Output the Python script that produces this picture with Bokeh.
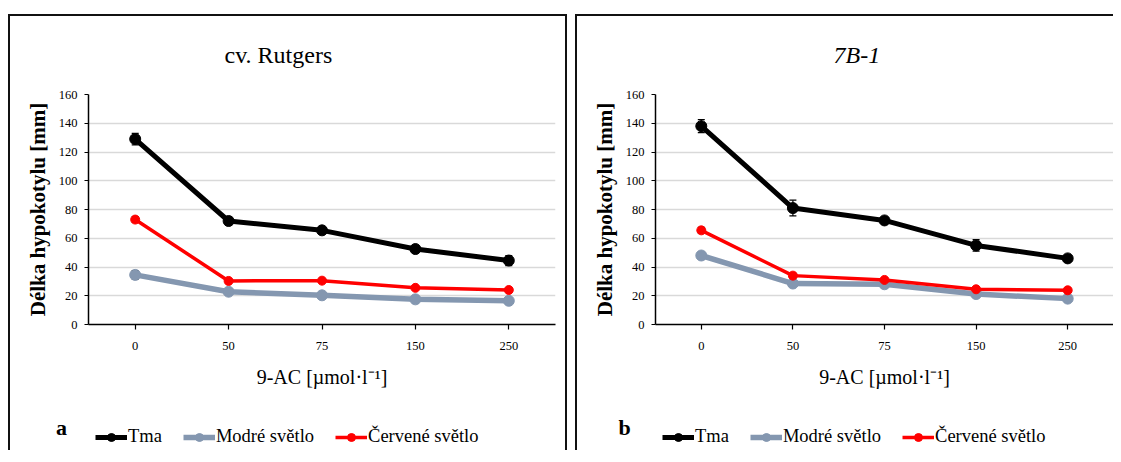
from bokeh.plotting import figure
from bokeh.models import (ColumnDataSource, FactorRange, Range1d, FixedTicker, Whisker,
                          TeeHead, Legend, LegendItem, Label)
from bokeh.layouts import row, column
from bokeh.embed import file_html
from bokeh.resources import INLINE

# ---------------- data ----------------
doses = ["0", "50", "75", "150", "250"]
series_names = ["Tma", "Modré světlo", "Červené světlo"]

# panel a: cv. Rutgers
a_tma = [129, 72, 65.5, 52.5, 44.5]
a_tma_err = [4, 3, 2, 2, 3.5]
a_modre = [34.5, 22.8, 20.3, 17.5, 16.5]
a_modre_err = [3, 1.5, 1, 1, 1]
a_cervene = [73, 30.3, 30.5, 25.5, 24]
a_cervene_err = [2, 1, 1, 1, 1]

# panel b: 7B-1
b_tma = [138, 81, 72.4, 55, 46]
b_tma_err = [4.5, 5.5, 2, 4, 2]
b_modre = [48, 28.5, 28, 21.2, 18]
b_modre_err = [2, 1.5, 1.5, 1.5, 1.5]
b_cervene = [65.5, 34, 31, 24.5, 23.8]
b_cervene_err = [2, 1.5, 1.5, 1.5, 1.5]

y_ticks = [0, 20, 40, 60, 80, 100, 120, 140, 160]
x_title = "9-AC [µmol·l⁻¹]"
y_title = "Délka hypokotylu [mm]"

SERIF = "'Liberation Serif', 'Times New Roman', serif"
COLORS = {"Tma": "#000000", "Modré světlo": "#8497B0", "Červené světlo": "#FF0000"}
LWIDTH = {"Tma": 5, "Modré světlo": 5.5, "Červené světlo": 3.5}
MSIZE = {"Tma": 11, "Modré světlo": 11, "Červené světlo": 9}
BORDER = "2px solid #111"


def make_main(title, italic, title_offset, tma, tma_e, mod, mod_e, cer, cer_e,
              width, border_right, css):
    p = figure(x_range=FactorRange(*doses, range_padding=0), y_range=Range1d(0, 160),
               width=width, height=386, output_backend="svg", toolbar_location=None,
               min_border_left=78, min_border_right=border_right,
               min_border_top=77, min_border_bottom=78, styles=css)
    p.title.text = title
    p.title.align = "left"
    p.title.vertical_align = "top"
    p.title.offset = title_offset
    p.title.standoff = 50
    p.title.text_font = SERIF
    p.title.text_font_size = "24px"
    p.title.text_font_style = "italic" if italic else "normal"
    p.title.text_color = "black"

    p.outline_line_color = None
    p.xgrid.grid_line_color = None
    p.ygrid.grid_line_color = "#D9D9D9"
    p.ygrid.grid_line_width = 1.5
    p.yaxis.ticker = FixedTicker(ticks=y_ticks)
    for ax in (p.xaxis, p.yaxis):
        ax.axis_line_color = "black"
        ax.axis_line_width = 1.5
        ax.major_tick_line_color = "black"
        ax.major_tick_line_width = 1.2
        ax.minor_tick_line_color = None
        ax.major_tick_in = 0
        ax.major_label_text_font = SERIF
        ax.major_label_text_font_size = "12.5px"
        ax.major_label_text_color = "black"
        ax.axis_label_text_font = SERIF
        ax.axis_label_text_color = "black"
    p.yaxis.major_tick_out = 4
    p.yaxis.major_label_standoff = 7
    p.yaxis.axis_label = y_title
    p.yaxis.axis_label_text_font_size = "21px"
    p.yaxis.axis_label_text_font_style = "bold"
    p.yaxis.axis_label_standoff = 6
    p.xaxis.major_tick_out = 5
    p.xaxis.major_label_standoff = 12
    p.xaxis.axis_label = x_title
    p.xaxis.axis_label_text_font_size = "20px"
    p.xaxis.axis_label_text_font_style = "normal"
    p.xaxis.axis_label_standoff = 13

    data = {"Tma": (tma, tma_e), "Modré světlo": (mod, mod_e), "Červené světlo": (cer, cer_e)}
    for name in ["Modré světlo", "Červené světlo", "Tma"]:
        vals, errs = data[name]
        src = ColumnDataSource(dict(x=doses, y=vals,
                                    lo=[v - e for v, e in zip(vals, errs)],
                                    hi=[v + e for v, e in zip(vals, errs)]))
        w = Whisker(source=src, base="x", lower="lo", upper="hi", dimension="height",
                    line_color="black", line_width=1.2,
                    lower_head=TeeHead(size=7, line_color="black", line_width=1.2),
                    upper_head=TeeHead(size=7, line_color="black", line_width=1.2))
        p.add_layout(w)
        p.line("x", "y", source=src, line_color=COLORS[name], line_width=LWIDTH[name])
        p.scatter("x", "y", source=src, size=MSIZE[name], fill_color=COLORS[name],
                  line_color=COLORS[name])
    return p


def make_legend(letter, letter_x, width, series, css):
    # legend strip below the chart; its series data lie outside its visible x range
    h = 50
    cw = width - 4 if "border-right" in css else width - 2
    q = figure(x_range=Range1d(-cw - 20, -20), y_range=Range1d(0, h), width=width, height=h,
               output_backend="svg", toolbar_location=None,
               x_axis_location=None, y_axis_location=None,
               min_border=0, min_border_left=0, min_border_right=0,
               min_border_top=0, min_border_bottom=0, styles=css)
    if "frame_align" in q.properties():
        q.frame_align = False
    q.outline_line_color = None
    q.xgrid.visible = False
    q.ygrid.visible = False
    items = []
    for name, vals in zip(series_names, series):
        src = ColumnDataSource(dict(x=list(range(len(vals))), y=vals))
        ln = q.line("x", "y", source=src, line_color=COLORS[name], line_width=LWIDTH[name])
        sc = q.scatter("x", "y", source=src, size=MSIZE[name], fill_color=COLORS[name],
                       line_color=COLORS[name])
        items.append(LegendItem(label=name, renderers=[ln, sc]))
    legend = Legend(items=items, orientation="horizontal", location=(85, 3), padding=0,
                    margin=0, spacing=21, label_standoff=1, glyph_width=32, glyph_height=20,
                    label_height=20, background_fill_alpha=0, border_line_color=None,
                    label_text_font=SERIF, label_text_font_size="18.5px",
                    label_text_color="black")
    q.add_layout(legend, "center")
    q.add_layout(Label(x=letter_x, y=23, x_units="screen", y_units="screen", text=letter,
                       text_font=SERIF, text_font_size="22px", text_font_style="bold",
                       text_align="center", text_baseline="middle", text_color="black"))
    return q


css_a_top = {"border-top": BORDER, "border-left": BORDER, "border-right": BORDER,
             "box-sizing": "border-box"}
css_a_bot = {"border-left": BORDER, "border-right": BORDER, "box-sizing": "border-box"}
css_b_top = {"border-top": BORDER, "border-left": BORDER, "box-sizing": "border-box"}
css_b_bot = {"border-left": BORDER, "box-sizing": "border-box"}

pa = make_main("cv. Rutgers", False, 136, a_tma, a_tma_err, a_modre, a_modre_err,
               a_cervene, a_cervene_err, 559, 14, css_a_top)
la = make_legend("a", 51, 559, [a_tma, a_modre, a_cervene], css_a_bot)
pb = make_main("7B-1", True, 178, b_tma, b_tma_err, b_modre, b_modre_err,
               b_cervene, b_cervene_err, 538, 2, css_b_top)
lb = make_legend("b", 47, 538, [b_tma, b_modre, b_cervene], css_b_bot)

layout = row(column(pa, la, spacing=0), column(pb, lb, spacing=0),
             spacing=8, margin=(14, 0, 0, 8))
open("out.html", "w").write(file_html(layout, INLINE))
